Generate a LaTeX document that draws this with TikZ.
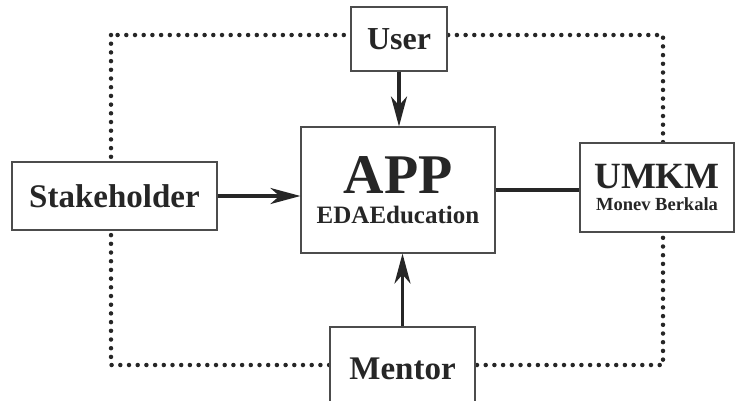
\documentclass[tikz,border=0pt]{standalone}
\usepackage{fontspec}
\setmainfont{Liberation Serif}
\usetikzlibrary{arrows.meta}

\begin{document}
\begin{tikzpicture}[x=1pt, y=-1pt,
% node style
rect/.style={rectangle, draw=black!70, fill=white, line width=1.1pt, inner sep=0pt, text=black!85, font=\bfseries},
link/.style={draw=black!85, line width=3.5pt},
arw/.style={link, -{Stealth[length=30pt, width=16pt, inset=9pt]}},
frame/.style={draw=black!85, line width=4.5pt, line cap=round, dash pattern=on 0pt off 8.7pt}
]
\useasboundingbox (0,0) rectangle (736,400);

% dotted frame behind the boxes
\coordinate (frame_tl) at (111,35);
\coordinate (frame_br) at (663,365);
\draw[frame] (frame_tl) rectangle (frame_br);

% nodes
\node[rect, minimum width=194pt, minimum height=126pt, align=center] (app) at (398,190) {
  {\fontsize{56}{50}\selectfont APP}\\[11pt]
  {\fontsize{25}{29}\selectfont EDAEducation}
};
\node[rect, minimum width=96pt, minimum height=64pt] (user) at (399,39) {\fontsize{32}{32}\selectfont User};
\node[rect, minimum width=205pt, minimum height=68pt] (stake) at (114.5,196) {\fontsize{33}{33}\selectfont Stakeholder};
\node[rect, minimum width=154pt, minimum height=89pt, align=center] (umkm) at (657,187.5) {
  {\fontsize{37}{34}\selectfont UMKM}\\[7pt]
  {\fontsize{18.5}{22}\selectfont Monev Berkala}
};
\node[rect, minimum width=145pt, minimum height=83pt] (mentor) at (402.5,368.5) {\fontsize{33}{33}\selectfont Mentor};

% draw lines between nodes
\draw[arw] (user.south) -- (user.south |- app.north);
\draw[arw] (stake.east) -- (stake.east -| app.west);
\draw[arw] (mentor.north) -- (mentor.north |- app.south);
\draw[link] (app.east) -- (app.east -| umkm.west);

\end{tikzpicture}
\end{document}
